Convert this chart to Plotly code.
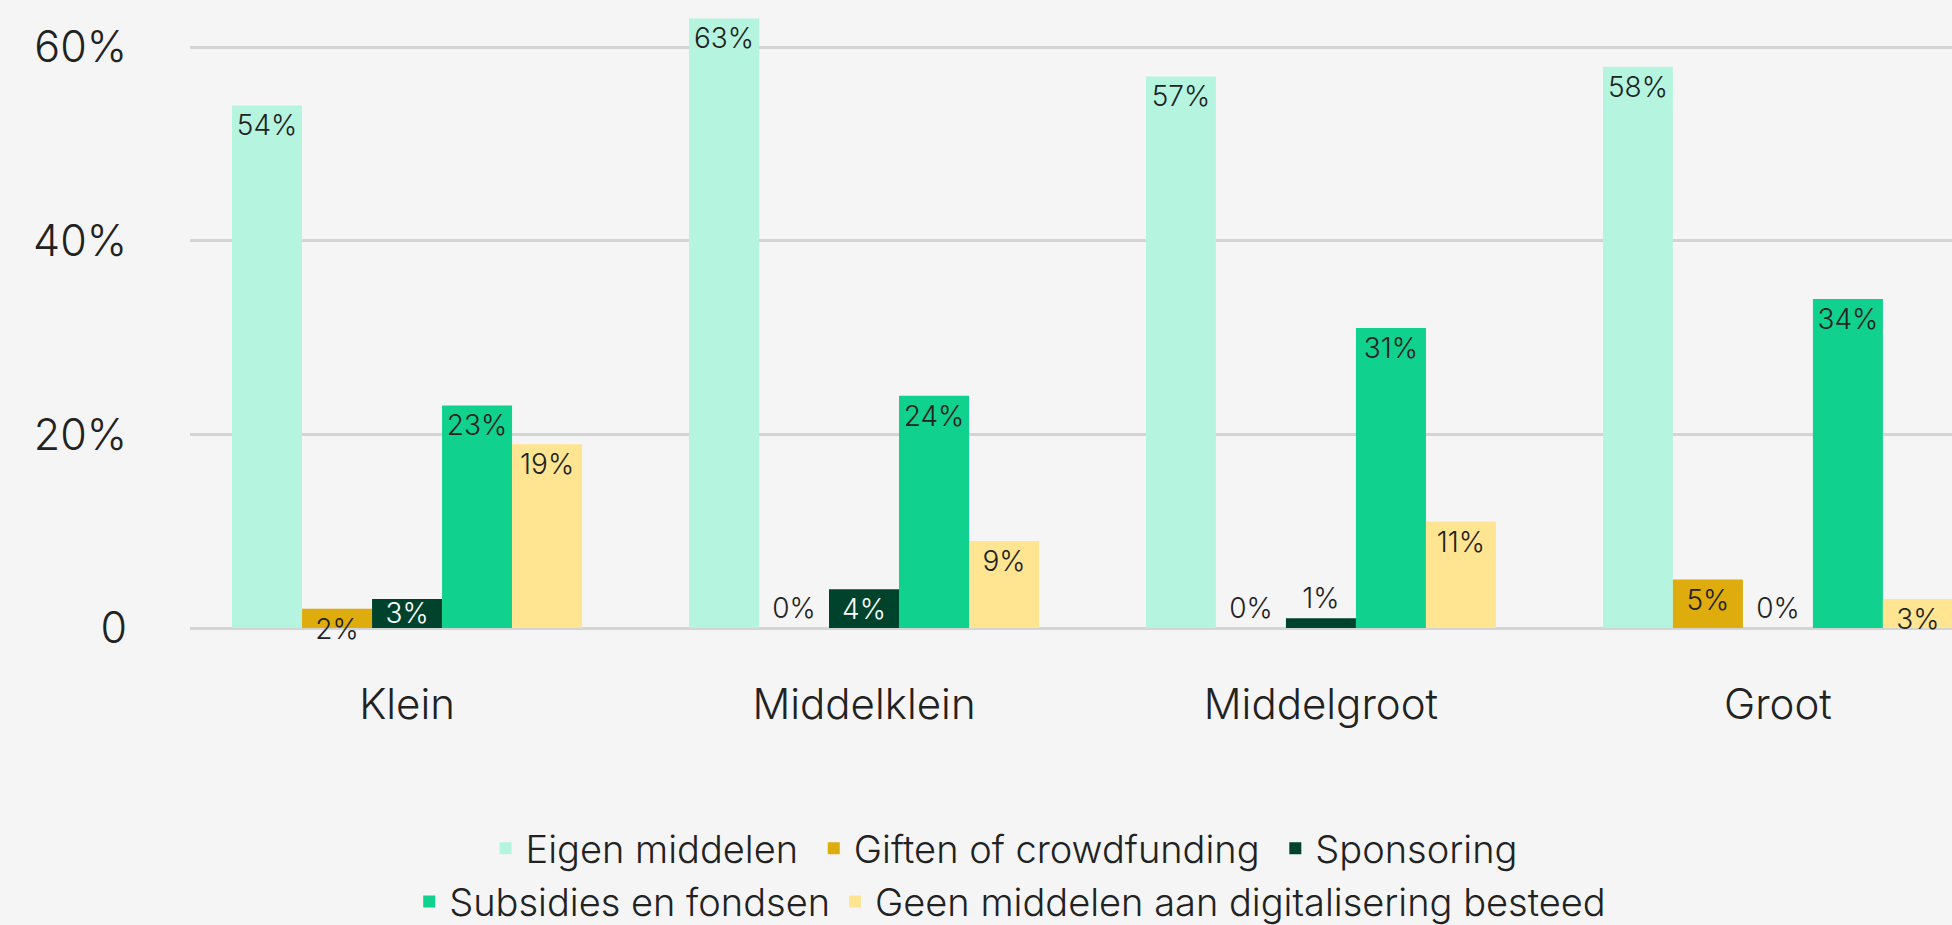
import plotly.graph_objects as go

CATEGORIES = ['Klein', 'Middelklein', 'Middelgroot', 'Groot']

SERIES = [
    'Eigen middelen',
    'Giften of crowdfunding',
    'Sponsoring',
    'Subsidies en fondsen',
    'Geen middelen aan digitalisering besteed',
]

eigen_middelen = [54, 63, 57, 58]
giften_crowdfunding = [2, 0, 0, 5]
sponsoring = [3, 4, 1, 0]
subsidies_fondsen = [23, 24, 31, 34]
geen_middelen = [19, 9, 11, 3]

Y_TICKS = [0, 20, 40, 60]
Y_TICKTEXT = ['0', '20%', '40%', '60%']

COLORS = ['#B5F5DF', '#DEAC0C', '#00432C', '#10D18D', '#FFE591']
LABEL_DARK = '#222222'
LABEL_LIGHT = '#FFFFFF'
FONT = 'Inter'

values = [eigen_middelen, giften_crowdfunding, sponsoring, subsidies_fondsen, geen_middelen]

fig = go.Figure()
for i, (name, vals, color) in enumerate(zip(SERIES, values, COLORS)):
    dark_bar = color == '#00432C'
    # a bit of extra room after the first two entries of the top legend row
    label = name + '\u00a0' if i in (0, 1) else name
    fig.add_trace(go.Bar(
        name=label,
        x=CATEGORIES,
        y=vals,
        marker_color=color,
        marker_line_width=0,
        text=[f'{v}%' for v in vals],
        textposition=['outside' if v <= 1 else 'inside' for v in vals],
        # the short dark bars have their label centred
        insidetextanchor='middle' if dark_bar else 'end',
        textangle=0,
        constraintext='none',
        cliponaxis=False,
        insidetextfont=dict(
            family=FONT, size=28, weight=300,
            color=[LABEL_LIGHT if dark_bar else LABEL_DARK for v in vals],
        ),
        outsidetextfont=dict(family=FONT, size=28, weight=300, color=LABEL_DARK),
        legend='legend' if i < 3 else 'legend2',
        hoverinfo='skip',
    ))

legend_style = dict(
    orientation='h',
    xanchor='center',
    yanchor='middle',
    font=dict(family=FONT, size=38, weight=300, color='#222222'),
    bgcolor='rgba(0,0,0,0)',
    itemclick=False,
    itemdoubleclick=False,
    traceorder='normal',
)

fig.update_layout(
    width=1952,
    height=925,
    barmode='group',
    bargap=0.234,
    bargroupgap=0,
    plot_bgcolor='#F5F5F5',
    paper_bgcolor='#F5F5F5',
    margin=dict(l=190, r=0, t=0, b=297, autoexpand=False),
    font=dict(family=FONT, weight=300, color='#222222'),
    xaxis=dict(
        range=[-0.475, 3.381],
        showgrid=False,
        showline=False,
        ticks='',
        tickfont=dict(family=FONT, size=42, weight=300, color='#222222'),
        ticklabelstandoff=48,
    ),
    yaxis=dict(
        range=[0, 64.9],
        tickvals=Y_TICKS,
        ticktext=Y_TICKTEXT,
        showgrid=True,
        gridcolor='#D4D4D4',
        gridwidth=2.5,
        zeroline=True,
        zerolinecolor='#D4D4D4',
        zerolinewidth=2.5,
        showline=False,
        ticks='',
        tickfont=dict(family=FONT, size=43, weight=300, color='#222222'),
        ticklabelstandoff=62,
    ),
    legend=dict(legend_style, x=0.462, y=-0.351),
    legend2=dict(legend_style, x=0.4655, y=-0.436),
)

fig.write_html(
    'out.html',
    config={'displayModeBar': False},
    post_script="document.body.style.margin='0';",
)
